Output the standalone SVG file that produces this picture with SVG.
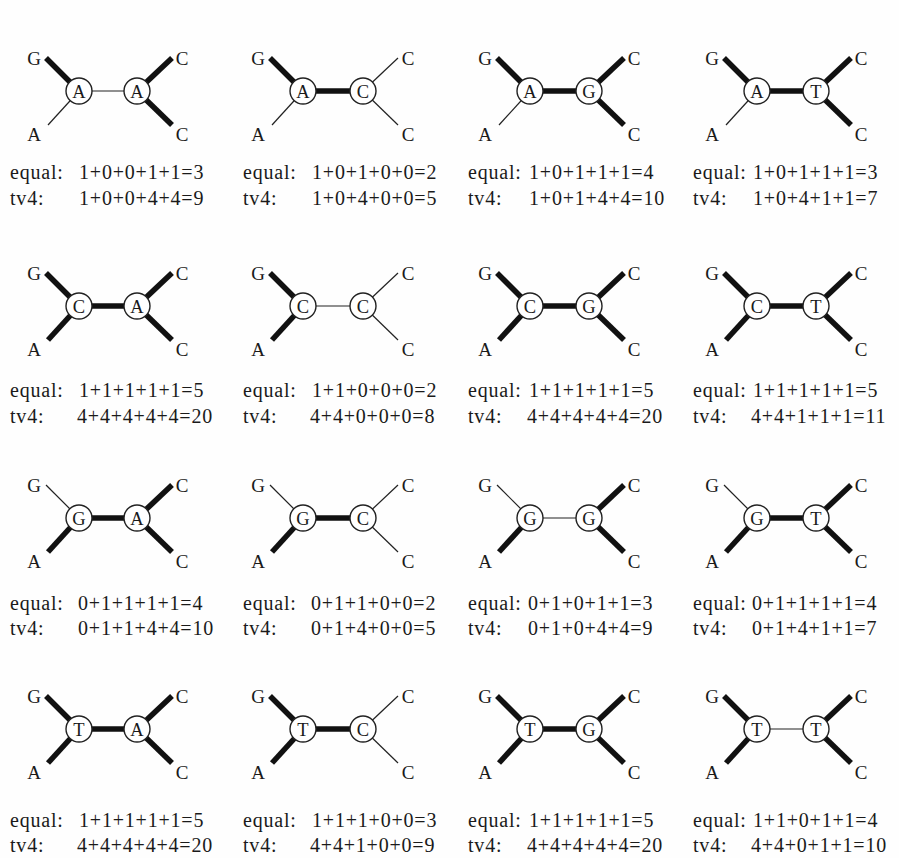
<svg xmlns="http://www.w3.org/2000/svg" width="899" height="858" viewBox="0 0 899 858">
<style>
.bg{fill:#fefefe}
.k{stroke:#111;stroke-width:5.5;stroke-linecap:butt}
.n{stroke:#222;stroke-width:1.2}
.nd circle{fill:#fff;stroke:#222;stroke-width:1.4}
.nd text{font-family:"Liberation Serif","Times New Roman",serif;font-size:18.5px;fill:#1a1a1a;text-anchor:middle}
.lf{font-family:"Liberation Serif","Times New Roman",serif;font-size:19px;fill:#1a1a1a;text-anchor:middle}
.sc{font-family:"Liberation Serif","Times New Roman",serif;font-size:20px;fill:#1a1a1a;letter-spacing:0.8px}
</style>
<rect class="bg" x="0" y="0" width="899" height="858"/>

<g id="connectors">
<line class="k" x1="46" y1="58" x2="79" y2="91"/><line class="n" x1="48" y1="125" x2="79" y2="91"/><line class="n" x1="79" y1="91" x2="137" y2="91"/><line class="k" x1="137" y1="91" x2="172" y2="58"/><line class="k" x1="137" y1="91" x2="172" y2="125"/>
<line class="k" x1="270" y1="58" x2="303" y2="91"/><line class="n" x1="272" y1="125" x2="303" y2="91"/><line class="k" x1="303" y1="91" x2="363" y2="91"/><line class="n" x1="363" y1="91" x2="398" y2="58"/><line class="n" x1="363" y1="91" x2="398" y2="125"/>
<line class="k" x1="497" y1="58" x2="530" y2="91"/><line class="n" x1="499" y1="125" x2="530" y2="91"/><line class="k" x1="530" y1="91" x2="589" y2="91"/><line class="k" x1="589" y1="91" x2="624" y2="58"/><line class="k" x1="589" y1="91" x2="624" y2="125"/>
<line class="k" x1="724" y1="58" x2="757" y2="91"/><line class="n" x1="726" y1="125" x2="757" y2="91"/><line class="k" x1="757" y1="91" x2="816" y2="91"/><line class="k" x1="816" y1="91" x2="851" y2="58"/><line class="k" x1="816" y1="91" x2="851" y2="125"/>
<line class="k" x1="46" y1="273" x2="79" y2="306"/><line class="k" x1="48" y1="340" x2="79" y2="306"/><line class="k" x1="79" y1="306" x2="137" y2="306"/><line class="k" x1="137" y1="306" x2="172" y2="273"/><line class="k" x1="137" y1="306" x2="172" y2="340"/>
<line class="k" x1="270" y1="273" x2="303" y2="306"/><line class="k" x1="272" y1="340" x2="303" y2="306"/><line class="n" x1="303" y1="306" x2="363" y2="306"/><line class="n" x1="363" y1="306" x2="398" y2="273"/><line class="n" x1="363" y1="306" x2="398" y2="340"/>
<line class="k" x1="497" y1="273" x2="530" y2="306"/><line class="k" x1="499" y1="340" x2="530" y2="306"/><line class="k" x1="530" y1="306" x2="589" y2="306"/><line class="k" x1="589" y1="306" x2="624" y2="273"/><line class="k" x1="589" y1="306" x2="624" y2="340"/>
<line class="k" x1="724" y1="273" x2="757" y2="306"/><line class="k" x1="726" y1="340" x2="757" y2="306"/><line class="k" x1="757" y1="306" x2="816" y2="306"/><line class="k" x1="816" y1="306" x2="851" y2="273"/><line class="k" x1="816" y1="306" x2="851" y2="340"/>
<line class="n" x1="46" y1="485" x2="79" y2="518"/><line class="k" x1="48" y1="552" x2="79" y2="518"/><line class="k" x1="79" y1="518" x2="137" y2="518"/><line class="k" x1="137" y1="518" x2="172" y2="485"/><line class="k" x1="137" y1="518" x2="172" y2="552"/>
<line class="n" x1="270" y1="485" x2="303" y2="518"/><line class="k" x1="272" y1="552" x2="303" y2="518"/><line class="k" x1="303" y1="518" x2="363" y2="518"/><line class="n" x1="363" y1="518" x2="398" y2="485"/><line class="n" x1="363" y1="518" x2="398" y2="552"/>
<line class="n" x1="497" y1="485" x2="530" y2="518"/><line class="k" x1="499" y1="552" x2="530" y2="518"/><line class="n" x1="530" y1="518" x2="589" y2="518"/><line class="k" x1="589" y1="518" x2="624" y2="485"/><line class="k" x1="589" y1="518" x2="624" y2="552"/>
<line class="n" x1="724" y1="485" x2="757" y2="518"/><line class="k" x1="726" y1="552" x2="757" y2="518"/><line class="k" x1="757" y1="518" x2="816" y2="518"/><line class="k" x1="816" y1="518" x2="851" y2="485"/><line class="k" x1="816" y1="518" x2="851" y2="552"/>
<line class="k" x1="46" y1="696" x2="79" y2="729"/><line class="k" x1="48" y1="763" x2="79" y2="729"/><line class="k" x1="79" y1="729" x2="137" y2="729"/><line class="k" x1="137" y1="729" x2="172" y2="696"/><line class="k" x1="137" y1="729" x2="172" y2="763"/>
<line class="k" x1="270" y1="696" x2="303" y2="729"/><line class="k" x1="272" y1="763" x2="303" y2="729"/><line class="k" x1="303" y1="729" x2="363" y2="729"/><line class="n" x1="363" y1="729" x2="398" y2="696"/><line class="n" x1="363" y1="729" x2="398" y2="763"/>
<line class="k" x1="497" y1="696" x2="530" y2="729"/><line class="k" x1="499" y1="763" x2="530" y2="729"/><line class="k" x1="530" y1="729" x2="589" y2="729"/><line class="k" x1="589" y1="729" x2="624" y2="696"/><line class="k" x1="589" y1="729" x2="624" y2="763"/>
<line class="k" x1="724" y1="696" x2="757" y2="729"/><line class="k" x1="726" y1="763" x2="757" y2="729"/><line class="n" x1="757" y1="729" x2="816" y2="729"/><line class="k" x1="816" y1="729" x2="851" y2="696"/><line class="k" x1="816" y1="729" x2="851" y2="763"/>
</g>

<g id="leaves" class="lf">
<text x="34" y="65">G</text><text x="34" y="141">A</text><text x="182" y="65">C</text><text x="182" y="141">C</text>
<text x="258" y="65">G</text><text x="258" y="141">A</text><text x="408" y="65">C</text><text x="408" y="141">C</text>
<text x="485" y="65">G</text><text x="485" y="141">A</text><text x="634" y="65">C</text><text x="634" y="141">C</text>
<text x="712" y="65">G</text><text x="712" y="141">A</text><text x="861" y="65">C</text><text x="861" y="141">C</text>

<text x="34" y="280">G</text><text x="34" y="356">A</text><text x="182" y="280">C</text><text x="182" y="356">C</text>
<text x="258" y="280">G</text><text x="258" y="356">A</text><text x="408" y="280">C</text><text x="408" y="356">C</text>
<text x="485" y="280">G</text><text x="485" y="356">A</text><text x="634" y="280">C</text><text x="634" y="356">C</text>
<text x="712" y="280">G</text><text x="712" y="356">A</text><text x="861" y="280">C</text><text x="861" y="356">C</text>

<text x="34" y="492">G</text><text x="34" y="568">A</text><text x="182" y="492">C</text><text x="182" y="568">C</text>
<text x="258" y="492">G</text><text x="258" y="568">A</text><text x="408" y="492">C</text><text x="408" y="568">C</text>
<text x="485" y="492">G</text><text x="485" y="568">A</text><text x="634" y="492">C</text><text x="634" y="568">C</text>
<text x="712" y="492">G</text><text x="712" y="568">A</text><text x="861" y="492">C</text><text x="861" y="568">C</text>

<text x="34" y="703">G</text><text x="34" y="779">A</text><text x="182" y="703">C</text><text x="182" y="779">C</text>
<text x="258" y="703">G</text><text x="258" y="779">A</text><text x="408" y="703">C</text><text x="408" y="779">C</text>
<text x="485" y="703">G</text><text x="485" y="779">A</text><text x="634" y="703">C</text><text x="634" y="779">C</text>
<text x="712" y="703">G</text><text x="712" y="779">A</text><text x="861" y="703">C</text><text x="861" y="779">C</text>
</g>

<g id="n11a" class="nd"><circle cx="79" cy="91" r="13"/><text x="79" y="97.5">A</text></g>
<g id="n11b" class="nd"><circle cx="137" cy="91" r="13"/><text x="137" y="97.5">A</text></g>
<g id="n12a" class="nd"><circle cx="303" cy="91" r="13"/><text x="303" y="97.5">A</text></g>
<g id="n12b" class="nd"><circle cx="363" cy="91" r="13"/><text x="363" y="97.5">C</text></g>
<g id="n13a" class="nd"><circle cx="530" cy="91" r="13"/><text x="530" y="97.5">A</text></g>
<g id="n13b" class="nd"><circle cx="589" cy="91" r="13"/><text x="589" y="97.5">G</text></g>
<g id="n14a" class="nd"><circle cx="757" cy="91" r="13"/><text x="757" y="97.5">A</text></g>
<g id="n14b" class="nd"><circle cx="816" cy="91" r="13"/><text x="816" y="97.5">T</text></g>

<g id="n21a" class="nd"><circle cx="79" cy="306" r="13"/><text x="79" y="312.5">C</text></g>
<g id="n21b" class="nd"><circle cx="137" cy="306" r="13"/><text x="137" y="312.5">A</text></g>
<g id="n22a" class="nd"><circle cx="303" cy="306" r="13"/><text x="303" y="312.5">C</text></g>
<g id="n22b" class="nd"><circle cx="363" cy="306" r="13"/><text x="363" y="312.5">C</text></g>
<g id="n23a" class="nd"><circle cx="530" cy="306" r="13"/><text x="530" y="312.5">C</text></g>
<g id="n23b" class="nd"><circle cx="589" cy="306" r="13"/><text x="589" y="312.5">G</text></g>
<g id="n24a" class="nd"><circle cx="757" cy="306" r="13"/><text x="757" y="312.5">C</text></g>
<g id="n24b" class="nd"><circle cx="816" cy="306" r="13"/><text x="816" y="312.5">T</text></g>

<g id="n31a" class="nd"><circle cx="79" cy="518" r="13"/><text x="79" y="524.5">G</text></g>
<g id="n31b" class="nd"><circle cx="137" cy="518" r="13"/><text x="137" y="524.5">A</text></g>
<g id="n32a" class="nd"><circle cx="303" cy="518" r="13"/><text x="303" y="524.5">G</text></g>
<g id="n32b" class="nd"><circle cx="363" cy="518" r="13"/><text x="363" y="524.5">C</text></g>
<g id="n33a" class="nd"><circle cx="530" cy="518" r="13"/><text x="530" y="524.5">G</text></g>
<g id="n33b" class="nd"><circle cx="589" cy="518" r="13"/><text x="589" y="524.5">G</text></g>
<g id="n34a" class="nd"><circle cx="757" cy="518" r="13"/><text x="757" y="524.5">G</text></g>
<g id="n34b" class="nd"><circle cx="816" cy="518" r="13"/><text x="816" y="524.5">T</text></g>

<g id="n41a" class="nd"><circle cx="79" cy="729" r="13"/><text x="79" y="735.5">T</text></g>
<g id="n41b" class="nd"><circle cx="137" cy="729" r="13"/><text x="137" y="735.5">A</text></g>
<g id="n42a" class="nd"><circle cx="303" cy="729" r="13"/><text x="303" y="735.5">T</text></g>
<g id="n42b" class="nd"><circle cx="363" cy="729" r="13"/><text x="363" y="735.5">C</text></g>
<g id="n43a" class="nd"><circle cx="530" cy="729" r="13"/><text x="530" y="735.5">T</text></g>
<g id="n43b" class="nd"><circle cx="589" cy="729" r="13"/><text x="589" y="735.5">G</text></g>
<g id="n44a" class="nd"><circle cx="757" cy="729" r="13"/><text x="757" y="735.5">T</text></g>
<g id="n44b" class="nd"><circle cx="816" cy="729" r="13"/><text x="816" y="735.5">T</text></g>

<g id="scores" class="sc">
<text x="10" y="179">equal:</text><text x="79" y="179">1+0+0+1+1=3</text><text x="10" y="205">tv4:</text><text x="79" y="205">1+0+0+4+4=9</text>
<text x="243" y="179">equal:</text><text x="312" y="179">1+0+1+0+0=2</text><text x="243" y="205">tv4:</text><text x="312" y="205">1+0+4+0+0=5</text>
<text x="468" y="179">equal:</text><text x="529" y="179">1+0+1+1+1=4</text><text x="468" y="205">tv4:</text><text x="529" y="205">1+0+1+4+4=10</text>
<text x="693" y="179">equal:</text><text x="753" y="179">1+0+1+1+1=3</text><text x="693" y="205">tv4:</text><text x="753" y="205">1+0+4+1+1=7</text>

<text x="10" y="397">equal:</text><text x="79" y="397">1+1+1+1+1=5</text><text x="10" y="423">tv4:</text><text x="77" y="423">4+4+4+4+4=20</text>
<text x="243" y="397">equal:</text><text x="312" y="397">1+1+0+0+0=2</text><text x="243" y="423">tv4:</text><text x="310" y="423">4+4+0+0+0=8</text>
<text x="468" y="397">equal:</text><text x="529" y="397">1+1+1+1+1=5</text><text x="468" y="423">tv4:</text><text x="527" y="423">4+4+4+4+4=20</text>
<text x="693" y="397">equal:</text><text x="753" y="397">1+1+1+1+1=5</text><text x="693" y="423">tv4:</text><text x="751" y="423">4+4+1+1+1=11</text>

<text x="10" y="610">equal:</text><text x="78" y="610">0+1+1+1+1=4</text><text x="10" y="635">tv4:</text><text x="78" y="635">0+1+1+4+4=10</text>
<text x="243" y="610">equal:</text><text x="311" y="610">0+1+1+0+0=2</text><text x="243" y="635">tv4:</text><text x="311" y="635">0+1+4+0+0=5</text>
<text x="468" y="610">equal:</text><text x="528" y="610">0+1+0+1+1=3</text><text x="468" y="635">tv4:</text><text x="528" y="635">0+1+0+4+4=9</text>
<text x="693" y="610">equal:</text><text x="752" y="610">0+1+1+1+1=4</text><text x="693" y="635">tv4:</text><text x="752" y="635">0+1+4+1+1=7</text>

<text x="10" y="827">equal:</text><text x="79" y="827">1+1+1+1+1=5</text><text x="10" y="852">tv4:</text><text x="77" y="852">4+4+4+4+4=20</text>
<text x="243" y="827">equal:</text><text x="312" y="827">1+1+1+0+0=3</text><text x="243" y="852">tv4:</text><text x="310" y="852">4+4+1+0+0=9</text>
<text x="468" y="827">equal:</text><text x="529" y="827">1+1+1+1+1=5</text><text x="468" y="852">tv4:</text><text x="527" y="852">4+4+4+4+4=20</text>
<text x="693" y="827">equal:</text><text x="753" y="827">1+1+0+1+1=4</text><text x="693" y="852">tv4:</text><text x="751" y="852">4+4+0+1+1=10</text>
</g>
</svg>
